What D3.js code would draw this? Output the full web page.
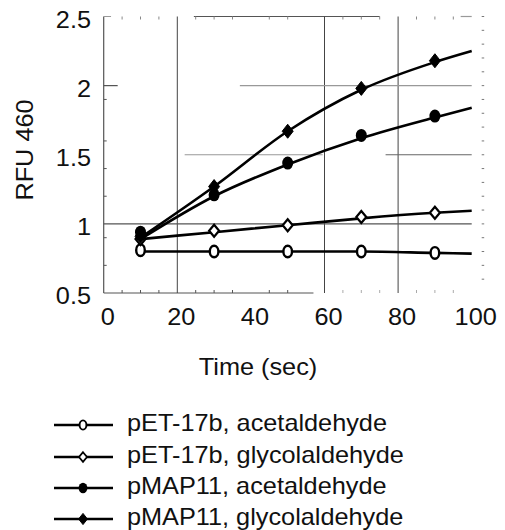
<!DOCTYPE html>
<html><head><meta charset="utf-8">
<script src="https://cdn.jsdelivr.net/npm/d3@7"></script>
<style>
body{margin:0;background:#fff}
text{font-family:"Liberation Sans",Arial,Helvetica,sans-serif;fill:#111}
</style>
</head><body>
<svg id="chart" width="505" height="530"></svg>
<script>
// ---- data ----
const time = [10, 30, 50, 70, 90];
const fitTime = [10, 30, 50, 70, 90, 100];
const seriesNames = ["pET-17b, acetaldehyde", "pET-17b, glycolaldehyde", "pMAP11, acetaldehyde", "pMAP11, glycolaldehyde"];
const seriesMarkers = ["openCircle", "openDiamond", "filledCircle", "filledDiamond"];
const pET_acetaldehyde = [0.81, 0.80, 0.80, 0.80, 0.79];
const pET_glycolaldehyde = [0.89, 0.95, 0.99, 1.05, 1.08];
const pMAP_acetaldehyde = [0.94, 1.21, 1.44, 1.64, 1.78];
const pMAP_glycolaldehyde = [0.91, 1.27, 1.67, 1.98, 2.18];
const fit_pET_acetaldehyde = [0.80, 0.80, 0.80, 0.80, 0.79, 0.785];
const fit_pET_glycolaldehyde = [0.89, 0.94, 0.99, 1.04, 1.08, 1.095];
const fit_pMAP_acetaldehyde = [0.89, 1.20, 1.43, 1.62, 1.77, 1.84];
const fit_pMAP_glycolaldehyde = [0.90, 1.27, 1.67, 1.97, 2.17, 2.25];
const xTicks = [0, 20, 40, 60, 80, 100];
const yTicks = [0.5, 1, 1.5, 2, 2.5];
const yTickLabels = ["0.5", "1", "1.5", "2", "2.5"];
const xGridValues = [20, 60, 80];
// horizontal grid pieces: [y value, from x, to x]
const yGridPieces = [[1, 0, 100], [2, 37, 100], [1.5, 22, 59.5], [1.5, 76.6, 100]];
const leftMinorTicks = [0.7, 0.9, 1.2, 1.4, 1.6, 1.9];
const xMinorTicks = [5, 10, 15, 25, 30, 35, 45, 50, 65, 70, 75, 85, 90, 95];
const rightMinorTicks = d3.range(6, 26).map(d => d / 10);
const xTitle = "Time (sec)";
const yTitle = "RFU 460";

const seriesVals = [pET_acetaldehyde, pET_glycolaldehyde, pMAP_acetaldehyde, pMAP_glycolaldehyde];
const fitVals = [fit_pET_acetaldehyde, fit_pET_glycolaldehyde, fit_pMAP_acetaldehyde, fit_pMAP_glycolaldehyde];

// ---- layout ----
const svg = d3.select("#chart");
const x = d3.scaleLinear().domain([0, 100]).range([103.7, 471.7]);
const y = d3.scaleLinear().domain([0.5, 2.5]).range([293, 16.5]);
const FS = 23;
const SX = 1.1; // horizontal stretch of the lettering
const axisCol = "#555";

function label(sel, tx, ty, str, anchor, size, rot) {
  return sel.append("text")
    .attr("transform", `translate(${tx},${ty})${rot ? " rotate(" + rot + ")" : ""} scale(${SX},1)`)
    .attr("text-anchor", anchor).attr("font-size", size).text(str);
}

const g = svg.append("g");

// frame pieces
g.append("line").attr("x1", x(0)).attr("x2", x(0)).attr("y1", y(2.5)).attr("y2", y(0.5)).attr("stroke", axisCol).attr("stroke-width", 1.2);
g.append("line").attr("x1", x(0)).attr("x2", x(57)).attr("y1", y(0.5)).attr("y2", y(0.5)).attr("stroke", axisCol).attr("stroke-width", 1.2);
g.append("line").attr("x1", x(24.5)).attr("x2", x(75)).attr("y1", y(2.5)).attr("y2", y(2.5)).attr("stroke", axisCol).attr("stroke-width", 1.2);
g.append("line").attr("x1", x(0)).attr("x2", x(2)).attr("y1", y(2.5)).attr("y2", y(2.5)).attr("stroke", "#999").attr("stroke-width", 1);
g.append("line").attr("x1", x(97)).attr("x2", x(100)).attr("y1", y(2.5)).attr("y2", y(2.5)).attr("stroke", "#999").attr("stroke-width", 1.2);

// vertical grid
g.selectAll(".vg").data(xGridValues).join("line")
  .attr("x1", d => x(d)).attr("x2", d => x(d)).attr("y1", y(2.5)).attr("y2", y(0.5))
  .attr("stroke", "#444").attr("stroke-width", 1);

// horizontal grid pieces
g.selectAll(".hg").data(yGridPieces).join("line")
  .attr("x1", d => x(d[1])).attr("x2", d => x(d[2])).attr("y1", d => y(d[0])).attr("y2", d => y(d[0]))
  .attr("stroke", (d, i) => i === 0 ? "#555" : (i === 3 ? "#666" : "#999")).attr("stroke-width", 1.2);

// left major tick at 2
g.append("line").attr("x1", x(0)).attr("x2", x(0) + 14).attr("y1", y(2)).attr("y2", y(2)).attr("stroke", axisCol).attr("stroke-width", 1.2);
// left minor ticks
g.selectAll(".lt").data(leftMinorTicks).join("line")
  .attr("x1", x(0)).attr("x2", x(0) + 3).attr("y1", d => y(d)).attr("y2", d => y(d))
  .attr("stroke", axisCol).attr("stroke-width", 1);
// bottom/top minor ticks
g.selectAll(".bt").data(xMinorTicks).join("line")
  .attr("x1", d => x(d)).attr("x2", d => x(d)).attr("y1", y(0.5)).attr("y2", y(0.5) - 3)
  .attr("stroke", d => d < 57 ? axisCol : "#aaa").attr("stroke-width", 1);
g.selectAll(".tt").data(xMinorTicks).join("line")
  .attr("x1", d => x(d)).attr("x2", d => x(d)).attr("y1", y(2.5)).attr("y2", y(2.5) + 3)
  .attr("stroke", "#888").attr("stroke-width", 1);
// right minor ticks
g.selectAll(".rt").data(rightMinorTicks).join("line")
  .attr("x1", x(100) + 10).attr("x2", x(100) + 12.5).attr("y1", d => y(d)).attr("y2", d => y(d))
  .attr("stroke", "#777").attr("stroke-width", 1);

// tick labels
xTicks.forEach(d => label(g, x(d) + 4, 325, d, "middle", FS));
yTicks.forEach((d, i) => label(g, 91, y(d) + 11, yTickLabels[i], "end", FS));

// titles
label(svg, 258, 375, xTitle, "middle", FS);
label(svg, 33, 150, yTitle, "middle", FS, -90);

// curves
const line = d3.line().x(d => x(d[0])).y(d => y(d[1])).curve(d3.curveMonotoneX);
fitVals.forEach(vals => {
  g.append("path").attr("d", line(fitTime.map((t, i) => [t, vals[i]])))
    .attr("fill", "none").attr("stroke", "#000").attr("stroke-width", 2.6);
});

// markers
function marker(sel, type, cx, cy, s) {
  const sw = 2.4 * s;
  if (type === "openCircle") {
    sel.append("ellipse").attr("cx", cx).attr("cy", cy).attr("rx", 4.3 * s).attr("ry", 5.8 * s)
      .attr("fill", "#fff").attr("stroke", "#000").attr("stroke-width", sw);
  } else if (type === "filledCircle") {
    sel.append("ellipse").attr("cx", cx).attr("cy", cy).attr("rx", 5.5 * s).attr("ry", 6.5 * s)
      .attr("fill", "#000");
  } else {
    const hw = (type === "openDiamond" ? 5 : 5.5) * s, hh = (type === "openDiamond" ? 6 : 7) * s;
    const p = d3.path();
    p.moveTo(cx, cy - hh); p.lineTo(cx + hw, cy); p.lineTo(cx, cy + hh); p.lineTo(cx - hw, cy); p.closePath();
    sel.append("path").attr("d", p.toString())
      .attr("fill", type === "openDiamond" ? "#fff" : "#000")
      .attr("stroke", "#000").attr("stroke-width", type === "openDiamond" ? 2.2 * s : 1);
  }
}
seriesVals.forEach((vals, si) => {
  time.forEach((t, i) => marker(g, seriesMarkers[si], x(t), y(vals[i]), 1));
});

// legend
const legendRows = [425, 457, 488, 519];
const lg = svg.append("g");
seriesNames.forEach((name, i) => {
  const ry = legendRows[i];
  lg.append("line").attr("x1", 54).attr("x2", 113).attr("y1", ry).attr("y2", ry).attr("stroke", "#000").attr("stroke-width", 2.6);
  marker(lg, seriesMarkers[i], 83, ry, 0.8);
  label(lg, 127, ry + 6, name, "start", FS);
});
</script>
</body></html>
